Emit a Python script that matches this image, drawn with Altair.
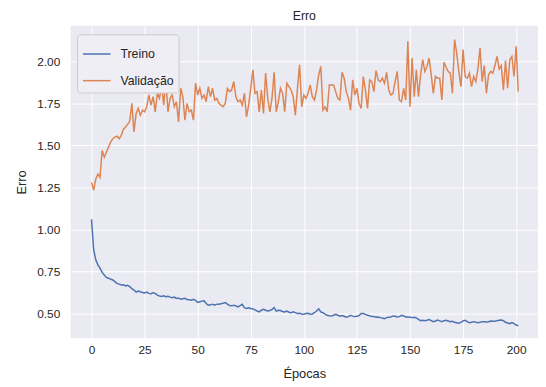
import altair as alt
import pandas as pd

# Training loss per epoch
treino = [
    1.06, 0.88, 0.82, 0.79, 0.77, 0.745, 0.73, 0.715, 0.71, 0.705,
    0.70, 0.69, 0.68, 0.675, 0.67, 0.672, 0.665, 0.668, 0.66, 0.648,
    0.64, 0.628, 0.634, 0.63, 0.625, 0.622, 0.628, 0.62, 0.618, 0.624,
    0.62, 0.61, 0.604, 0.602, 0.606, 0.60, 0.603, 0.598, 0.594, 0.598,
    0.59, 0.592, 0.585, 0.588, 0.591, 0.584, 0.582, 0.58, 0.585, 0.578,
    0.566, 0.57, 0.574, 0.576, 0.56, 0.55, 0.552, 0.556, 0.55, 0.556,
    0.555, 0.558, 0.562, 0.565, 0.556, 0.548, 0.546, 0.55, 0.545, 0.54,
    0.548, 0.555, 0.535, 0.53, 0.535, 0.53, 0.528, 0.522, 0.515, 0.51,
    0.52, 0.525, 0.52, 0.515, 0.518, 0.525, 0.535, 0.515, 0.52, 0.518,
    0.512, 0.51, 0.515, 0.508, 0.505, 0.51, 0.506, 0.50, 0.502, 0.498,
    0.496, 0.50, 0.502, 0.496, 0.498, 0.505, 0.515, 0.528, 0.51, 0.505,
    0.497, 0.49, 0.487, 0.485, 0.49, 0.496, 0.49, 0.485, 0.488, 0.484,
    0.478, 0.482, 0.49, 0.485, 0.482, 0.484, 0.488, 0.50, 0.50, 0.495,
    0.49, 0.487, 0.482, 0.482, 0.478, 0.48, 0.476, 0.474, 0.47, 0.476,
    0.478, 0.48, 0.486, 0.484, 0.48, 0.482, 0.49, 0.486, 0.48, 0.48,
    0.478, 0.476, 0.478, 0.474, 0.466, 0.458, 0.46, 0.458, 0.46, 0.464,
    0.458, 0.452, 0.456, 0.462, 0.457, 0.452, 0.458, 0.46, 0.456, 0.452,
    0.454, 0.448, 0.446, 0.443, 0.448, 0.456, 0.46, 0.452, 0.445, 0.448,
    0.452, 0.448, 0.446, 0.448, 0.452, 0.452, 0.45, 0.452, 0.456, 0.455,
    0.455, 0.458, 0.46, 0.462, 0.458, 0.448, 0.444, 0.44, 0.446, 0.44,
    0.432, 0.428,
]

# Validation loss per epoch
validacao = [
    1.28, 1.235, 1.30, 1.33, 1.31, 1.47, 1.43, 1.46, 1.49, 1.52,
    1.54, 1.55, 1.555, 1.54, 1.56, 1.595, 1.61, 1.625, 1.645, 1.75,
    1.58, 1.69, 1.72, 1.68, 1.71, 1.70, 1.73, 1.80, 1.74, 1.79,
    1.70, 1.81, 1.78, 1.86, 1.74, 1.89, 1.70, 1.78, 1.80, 1.73,
    1.76, 1.64, 1.84, 1.79, 1.65, 1.75, 1.70, 1.71,
    1.65, 1.87, 1.80, 1.84, 1.78, 1.80, 1.76, 1.85, 1.79, 1.84,
    1.77, 1.78, 1.75, 1.74, 1.73, 1.75, 1.84, 1.82, 1.83, 1.88,
    1.79, 1.76, 1.77, 1.74, 1.81, 1.67, 1.74, 1.84, 1.95, 1.81,
    1.82, 1.70, 1.83, 1.69, 1.93, 1.78, 1.70, 1.78, 1.935, 1.70,
    1.76, 1.84, 1.81, 1.70, 1.87, 1.85, 1.83, 1.79, 1.68,
    1.84, 1.98, 1.73, 1.80, 1.78, 1.81, 1.86, 1.79, 1.77, 1.83,
    1.92, 1.97, 1.71, 1.73, 1.70, 1.86, 1.86, 1.86, 1.82, 1.78,
    1.77, 1.935, 1.90, 1.82, 1.78, 1.71, 1.89, 1.80, 1.84, 1.75,
    1.72, 1.91, 1.83, 1.72, 1.89, 1.88, 1.82, 1.945, 1.89, 1.88,
    1.90, 1.87, 1.935, 1.83, 1.80, 1.81,
    1.88, 1.94, 1.77, 1.76, 1.84, 1.77, 2.12, 1.73, 2.02, 1.79,
    1.95, 1.79, 1.92, 2.01, 1.94, 1.97, 2.02, 1.92, 1.81, 1.91,
    1.90, 1.90, 1.77, 1.995, 1.965, 1.94, 1.93, 1.81, 2.13, 2.05,
    1.94, 1.85, 2.07, 1.91, 1.90, 1.93, 1.85, 1.91, 1.88, 1.955,
    2.08, 1.88, 1.975, 1.81, 1.92, 1.94, 1.93, 1.975, 2.03, 1.955,
    1.975, 1.83, 2.005, 1.84, 2.01, 2.03, 1.91, 2.09, 1.82,
]

series_names = ["Treino", "Validação"]
series_colors = ["#4C72B0", "#DD8452"]
x_ticks = [0, 25, 50, 75, 100, 125, 150, 175, 200]
y_ticks = [0.50, 0.75, 1.00, 1.25, 1.50, 1.75, 2.00]

rows = []
for name, vals in zip(series_names, [treino, validacao]):
    for i, v in enumerate(vals):
        rows.append({"epoca": i, "erro": v, "serie": name})
df = pd.DataFrame(rows)

FONT = "Liberation Sans"
TXT = "#262626"

chart = (
    alt.Chart(df)
    .mark_line(strokeWidth=1.5, clip=True)
    .encode(
        x=alt.X(
            "epoca:Q",
            scale=alt.Scale(domain=[-9.85, 210.3], nice=False, zero=False),
            axis=alt.Axis(values=x_ticks, format="d", title="Épocas",
                          labelPadding=6, titlePadding=13),
        ),
        y=alt.Y(
            "erro:Q",
            scale=alt.Scale(domain=[0.353, 2.212], nice=False, zero=False),
            axis=alt.Axis(values=y_ticks, format=".2f", title="Erro",
                          labelPadding=11, titlePadding=8),
        ),
        color=alt.Color(
            "serie:N",
            scale=alt.Scale(domain=series_names, range=series_colors),
            legend=alt.Legend(
                title=None, orient="none", legendX=6.5, legendY=8.7,
                symbolType="stroke", symbolSize=784, symbolStrokeWidth=1.5,
                labelFontSize=12.5, labelFont=FONT, labelColor=TXT,
                labelOffset=9, padding=5, rowPadding=5,
                fillColor="#EEEEF4", strokeColor="#CCCCCC", cornerRadius=3,
            ),
        ),
        order=alt.Order("epoca:Q"),
    )
    .properties(
        width=474,
        height=317,
        padding={"left": 63.5, "top": 15.3, "right": 0, "bottom": 46},
        autosize=alt.AutoSizeParams(type="none"),
        title=alt.TitleParams("Erro", fontSize=12.5, fontWeight="normal",
                              color=TXT, font=FONT, offset=3),
    )
    .configure_view(fill="#EAEAF2", strokeWidth=0)
    .configure_axis(
        domain=False, ticks=False, gridColor="white", gridWidth=1,
        labelFont=FONT, labelFontSize=12, labelColor=TXT,
        titleFont=FONT, titleFontSize=13, titleFontWeight="normal", titleColor=TXT,
    )
)

chart.save("out.html", embed_options={"renderer": "svg", "actions": False})
